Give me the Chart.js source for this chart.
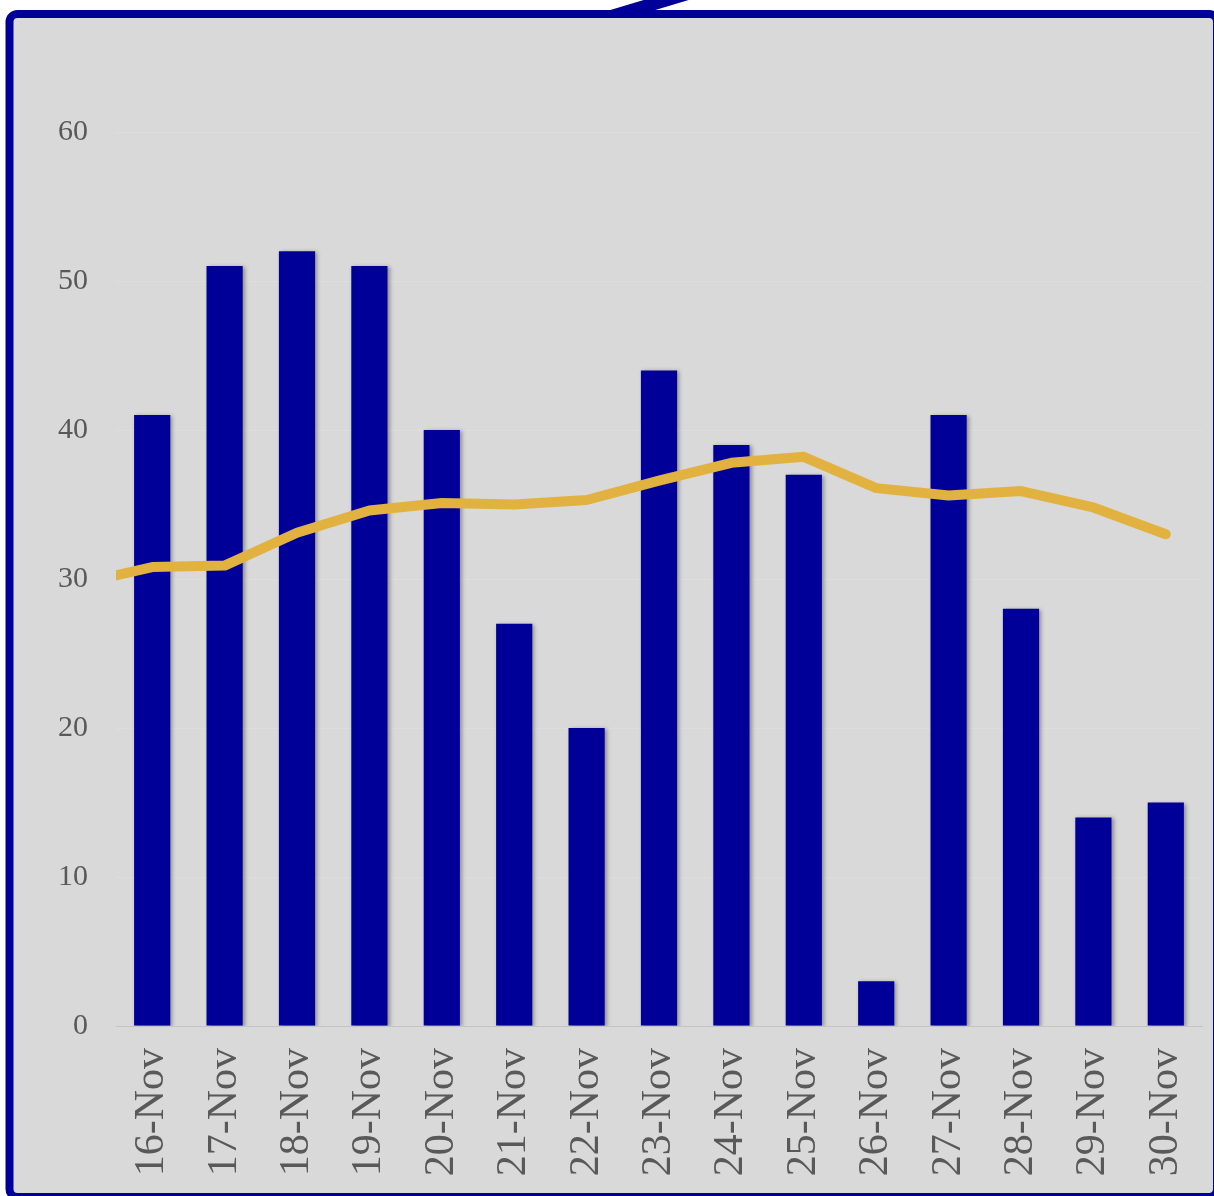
<!DOCTYPE html>
<html>
<head>
<meta charset="utf-8">
<title>Daily count</title>
<script src="https://cdn.jsdelivr.net/npm/chart.js@4/dist/chart.umd.min.js"></script>
<style>
  html, body { margin: 0; padding: 0; background: #fff; }
  canvas { display: block; }
</style>
</head>
<body>
<canvas id="fig_container" width="1214" height="1196"></canvas>
<script>
const days = ["16-Nov", "17-Nov", "18-Nov", "19-Nov", "20-Nov", "21-Nov", "22-Nov", "23-Nov",
              "24-Nov", "25-Nov", "26-Nov", "27-Nov", "28-Nov", "29-Nov", "30-Nov"];
const counts = [41, 51, 52, 51, 40, 27, 20, 44, 39, 37, 3, 41, 28, 14, 15];
// trend line (moving average); trendPrev belongs to the day before 16-Nov (off the left edge)
const prevDay = "15-Nov";
const trendPrev = 29.7;
const trend = [30.8, 30.9, 33.1, 34.6, 35.1, 35.0, 35.3, 36.6, 37.8, 38.2, 36.1, 35.6, 35.9, 34.8, 33.0];
const yTicks = [0, 10, 20, 30, 40, 50, 60];

const frame = {
    id: 'frame',
    beforeDraw: (chart) => {
        const ctx = chart.ctx;
        ctx.save();
        ctx.fillStyle = '#ffffff';
        ctx.fillRect(0, 0, chart.width, chart.height);
        ctx.beginPath();
        ctx.roundRect(9.5, 14, 1207.5, 1183, 8);
        ctx.fillStyle = '#D9D9D9';
        ctx.fill();
        ctx.lineWidth = 8;
        ctx.strokeStyle = '#000099';
        ctx.stroke();
        // clipped piece of the title connector at the top
        ctx.beginPath();
        ctx.moveTo(607, 11);
        ctx.lineTo(652, 11);
        ctx.lineTo(692, -1);
        ctx.lineTo(647, -1);
        ctx.closePath();
        ctx.fillStyle = '#000099';
        ctx.fill();
        ctx.restore();
    },
    beforeDatasetDraw: (chart, args) => {
        if (args.index === 0) {
            const ctx = chart.ctx;
            ctx.save();
            ctx.shadowColor = 'rgba(0,0,0,0.35)';
            ctx.shadowBlur = 4;
            ctx.shadowOffsetX = 2;
            ctx.shadowOffsetY = 1;
        }
    },
    afterDatasetDraw: (chart, args) => {
        if (args.index === 0) chart.ctx.restore();
    }
};

const ctx = document.getElementById('fig_container').getContext('2d');
const chart = new Chart(ctx, {
    type: 'bar',
    data: {
        labels: [prevDay].concat(days),
        datasets: [{
            type: 'bar',
            data: [null].concat(counts),
            backgroundColor: '#000099',
            barPercentage: 0.5,
            categoryPercentage: 1.0,
            order: 2
        }, {
            type: 'line',
            data: [trendPrev].concat(trend),
            borderColor: '#E1B23F',
            borderWidth: 10,
            borderCapStyle: 'round',
            borderJoinStyle: 'round',
            pointRadius: 0,
            tension: 0,
            order: 1
        }]
    },
    options: {
        responsive: false,
        animation: false,
        layout: { padding: { left: 0, right: 12, top: 132, bottom: 0 } },
        plugins: {
            legend: { display: false },
            tooltip: { enabled: false }
        },
        scales: {
            x: {
                type: 'category',
                min: days[0],
                offset: true,
                grid: { display: false, drawTicks: false },
                border: { display: true, color: '#C4C4C4', width: 1 },
                ticks: {
                    color: '#595959',
                    font: { family: "'Liberation Serif', 'DejaVu Serif', serif", size: 42 },
                    minRotation: 90,
                    maxRotation: 90,
                    padding: 22,
                    autoSkip: false
                },
                afterFit: (scale) => {
                    scale.height = 170;
                    scale.paddingLeft = 0;
                    scale.paddingRight = 0;
                }
            },
            y: {
                min: 0,
                max: 60,
                afterBuildTicks: (scale) => { scale.ticks = yTicks.map(v => ({value: v})); },
                grid: { color: '#DDDDDD', lineWidth: 1, drawTicks: false },
                border: { display: false },
                ticks: {
                    color: '#595959',
                    font: { family: "'Liberation Serif', 'DejaVu Serif', serif", size: 30 },
                    padding: 28
                },
                afterFit: (scale) => { scale.width = 116; }
            }
        }
    },
    plugins: [frame]
});
</script>
</body>
</html>
